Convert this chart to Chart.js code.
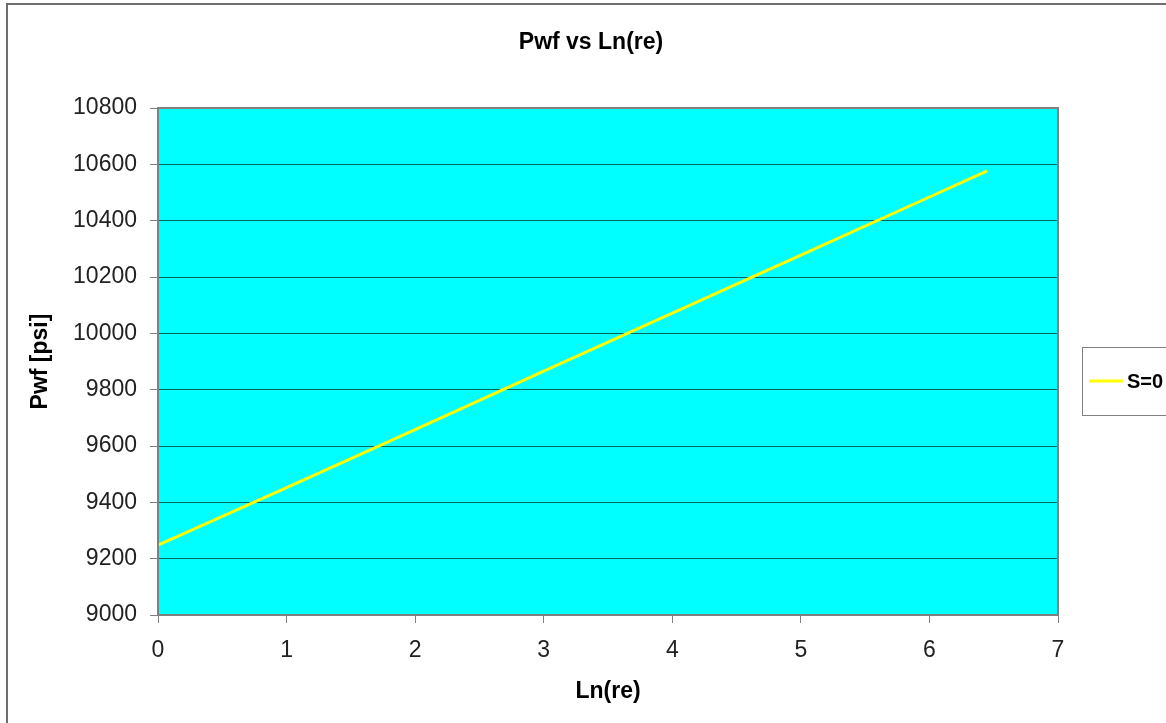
<!DOCTYPE html>
<html>
<head>
<meta charset="utf-8">
<script src="https://cdn.jsdelivr.net/npm/chart.js@4.4.1/dist/chart.umd.min.js"></script>
<style>
html,body{margin:0;padding:0;background:#fff;}
#wrap{width:1166px;height:723px;position:relative;}
</style>
</head>
<body>
<div id="wrap"><canvas id="c" width="1166" height="723"></canvas></div>
<script>
// Data
const lnRe = [0, 1, 2, 3, 4, 5, 6, 6.45];
const pwf = [9248, 9452, 9658, 9866, 10072, 10278, 10484, 10577];
const seriesName = 'S=0';
const chartTitle = 'Pwf vs Ln(re)';
const xTitle = 'Ln(re)';
const yTitle = 'Pwf [psi]';
const xTicks = [0, 1, 2, 3, 4, 5, 6, 7];
const yTicks = [9000, 9200, 9400, 9600, 9800, 10000, 10200, 10400, 10600, 10800];

const FONT = 'Liberation Sans, Arial, sans-serif';

const decor = {
  id: 'decor',
  beforeDraw(chart) {
    const {ctx, chartArea: a} = chart;
    ctx.save();
    ctx.fillStyle = '#ffffff';
    ctx.fillRect(0, 0, chart.width, chart.height);
    ctx.fillStyle = '#00ffff';
    ctx.fillRect(a.left, a.top, a.right - a.left, a.bottom - a.top);
    ctx.restore();
  },
  afterDraw(chart) {
    const {ctx, chartArea: a} = chart;
    ctx.save();
    // plot border
    ctx.strokeStyle = '#808080';
    ctx.lineWidth = 2;
    ctx.strokeRect(a.left, a.top, a.right - a.left, a.bottom - a.top);
    // outer frame (left and top visible)
    ctx.strokeStyle = '#6e6e6e';
    ctx.lineWidth = 2;
    ctx.beginPath();
    ctx.moveTo(7, chart.height + 5);
    ctx.lineTo(7, 4);
    ctx.lineTo(chart.width + 5, 4);
    ctx.stroke();
    // title
    ctx.fillStyle = '#000';
    ctx.font = 'bold 23px ' + FONT;
    ctx.textAlign = 'center';
    ctx.textBaseline = 'middle';
    ctx.fillText(chartTitle, 591, 43);
    // legend
    const lx = 1082, ly = 347, lh = 68;
    ctx.fillStyle = '#ffffff';
    ctx.fillRect(lx, ly, chart.width - lx + 5, lh);
    ctx.strokeStyle = '#808080';
    ctx.lineWidth = 1;
    ctx.strokeRect(lx + 0.5, ly + 0.5, chart.width - lx + 5, lh);
    const ds = chart.data.datasets[0];
    const cy = ly + 34;
    ctx.strokeStyle = ds.borderColor;
    ctx.lineWidth = 3;
    ctx.beginPath();
    ctx.moveTo(1089, cy);
    ctx.lineTo(1123, cy);
    ctx.stroke();
    ctx.fillStyle = '#000';
    ctx.font = 'bold 20px ' + FONT;
    ctx.textBaseline = 'middle';
    ctx.textAlign = 'left';
    ctx.fillText(ds.label, 1127, cy + 1);
    ctx.restore();
  }
};

new Chart(document.getElementById('c'), {
  type: 'scatter',
  data: {
    datasets: [{
      label: seriesName,
      data: lnRe.map((x, i) => ({x: x, y: pwf[i]})),
      showLine: true,
      borderColor: '#ffff00',
      backgroundColor: '#ffff00',
      borderWidth: 3,
      pointRadius: 0,
      tension: 0
    }]
  },
  options: {
    responsive: false,
    animation: false,
    layout: {padding: {left: 0, right: 108, top: 108, bottom: 0}},
    plugins: {
      legend: {display: false},
      tooltip: {enabled: false},
      title: {display: false}
    },
    scales: {
      x: {
        type: 'linear',
        min: 0, max: 7,
        afterBuildTicks(s) { s.ticks = xTicks.map(v => ({value: v})); },
        afterFit(s) { s.height = 108; },
        grid: {display: true, drawOnChartArea: false, drawTicks: true, tickLength: 8, tickColor: '#808080', color: '#808080'},
        border: {display: false},
        ticks: {color: '#222', font: {family: FONT, size: 23}, padding: 14, maxRotation: 0, callback: v => String(v)},
        title: {display: true, text: xTitle, color: '#000', font: {family: FONT, size: 23, weight: 'bold'}, padding: {top: 0, bottom: 18}}
      },
      y: {
        type: 'linear',
        min: 9000, max: 10800,
        afterBuildTicks(s) { s.ticks = yTicks.map(v => ({value: v})); },
        afterFit(s) { s.width = 158; },
        grid: {display: true, drawOnChartArea: true, drawTicks: true, tickLength: 8, tickColor: '#808080', color: 'rgba(0,0,0,0.6)', lineWidth: 1},
        border: {display: false},
        ticks: {color: '#222', font: {family: FONT, size: 23}, padding: 13, callback: v => String(v)},
        title: {display: true, text: yTitle, color: '#000', font: {family: FONT, size: 23, weight: 'bold'}, padding: {top: 27, bottom: 0}}
      }
    }
  },
  plugins: [decor]
});
</script>
</body>
</html>
